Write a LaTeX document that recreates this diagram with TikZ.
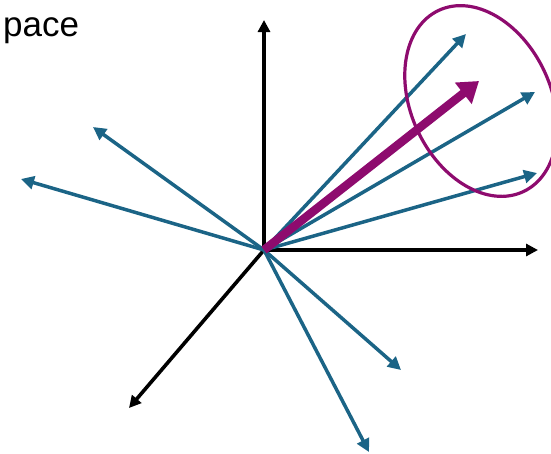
\documentclass[tikz,border=0pt]{standalone}
\usepackage{fontspec}
\setmainfont{Liberation Sans}
\usetikzlibrary{arrows.meta}
\definecolor{vblue}{HTML}{1B6486}
\definecolor{vmag}{HTML}{8E0B6E}
\tikzset{
  axis/.style={line width=3.6pt, black, -{Triangle[length=12pt,width=12pt]}},
  vec/.style={line width=3.5pt, vblue, -{Triangle[length=13pt,width=13pt]}},
  mainvec/.style={line width=8.5pt, vmag, -{Triangle[length=20pt,width=26pt]}},
  cluster/.style={line width=3.2pt, vmag},
}
\begin{document}
\begin{tikzpicture}[x=1pt,y=-1pt]
\useasboundingbox (0,0) rectangle (551,453);
\clip (0,0) rectangle (551,453);
\node[anchor=base west, inner sep=0pt, font=\fontsize{35}{40}\selectfont] (title) at (3,36) {pace};
\coordinate (O) at (264,250);
\coordinate (ax1) at (264,20);
\coordinate (ax2) at (538,250);
\coordinate (ax3) at (129,408);
\coordinate (v1) at (466,34);
\coordinate (v2) at (535,92);
\coordinate (v3) at (537,173);
\coordinate (v4) at (93,127);
\coordinate (v5) at (21,179);
\coordinate (v6) at (401,370);
\coordinate (v7) at (369,452);
\coordinate (m) at (479,81);
\coordinate (ec) at (481,101);
\draw[axis] (O) -- (ax1);
\draw[axis] (O) -- (ax2);
\draw[axis] (O) -- (ax3);
\foreach \v in {v1,v2,v3,v4,v5,v6,v7} \draw[vec] (O) -- (\v);
\draw[mainvec] (O) -- (m);
\draw[cluster, rotate around={25:(ec)}] (ec) ellipse [x radius=70, y radius=100];
\end{tikzpicture}
\end{document}
